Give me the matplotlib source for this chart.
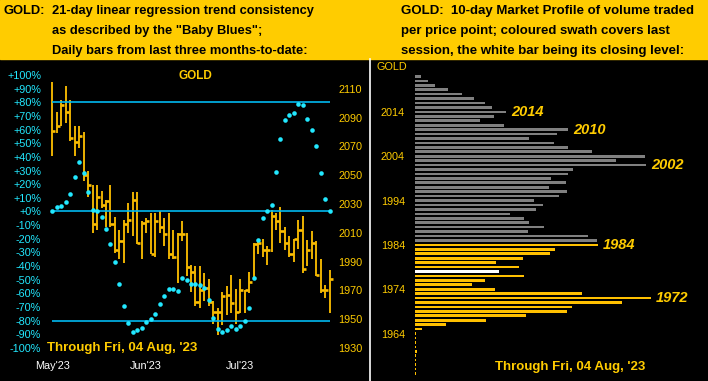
import matplotlib
matplotlib.use("Agg")
import matplotlib.pyplot as plt
from matplotlib.patches import Rectangle
from matplotlib.lines import Line2D

# daily bars (high, low, close), May'23 .. 04 Aug'23
high = [2115, 2094, 2102, 2112, 2102, 2084, 2084, 2080, 2053, 2043, 2043, 2039, 2033,
        2043, 2021, 2012, 2019, 2031, 2038, 2038, 2018, 2020, 2024, 2024, 2025, 2020,
        2024, 2012, 2010, 2018, 2010, 1988, 1987, 1987, 1982, 1978, 1963, 1958, 1969,
        1973, 1981, 1971, 1978, 1970, 1983, 2003, 2006, 2006, 2001, 2026, 2024, 2028,
        2014, 2008, 2006, 2019, 2022, 2005, 2011, 2004, 1992, 1974, 1984]
low = [2063, 2079, 2084, 2086, 2074, 2063, 2069, 2046, 2035, 2010, 2012, 2027, 2014,
       2014, 1996, 1992, 1989, 2010, 2008, 2002, 1992, 2010, 1995, 1993, 2010, 2001,
       1992, 1992, 1975, 2004, 1980, 1969, 1959, 1958, 1963, 1959, 1947, 1939, 1946,
       1953, 1954, 1947, 1954, 1954, 1968, 1978, 1995, 1993, 1988, 1997, 2012, 2003,
       1998, 1993, 1990, 1999, 1982, 1987, 1992, 1980, 1968, 1965, 1954]
close = [2081, 2084, 2099, 2094, 2076, 2073, 2077, 2050, 2043, 2016, 2035, 2029, 2032,
         2016, 1998, 2004, 2016, 2019, 2033, 2003, 2017, 2018, 1995, 2018, 2014, 2009,
         1995, 1993, 2009, 2009, 1986, 1983, 1962, 1970, 1972, 1962, 1955, 1955, 1966,
         1967, 1961, 1955, 1970, 1970, 1976, 2002, 2003, 1998, 1998, 2022, 2018, 2011,
         2003, 1995, 2006, 2012, 1985, 1998, 2003, 1981, 1970, 1970, 1978]
# "Baby Blues": 21-day linear regression trend consistency, %
blues = [0, 3, 4, 7, 13, 25, 36, 28, 14, 1, 0, -4, -13, -24, -37, -53, -69, -82, -88,
         -87, -85, -81, -79, -75, -68, -62, -57, -57, -58, -49, -50, -53, -53, -54,
         -56, -65, -78, -86, -88, -87, -84, -86, -84, -80, -71, -49, -21, -5, 0, 5,
         29, 53, 67, 71, 72, 79, 78, 68, 60, 48, 28, 9, 0]
months = ["May'23", "Jun'23", "Jul'23"]
month_pos = [0, 21, 42]

# 10-day market profile: volume per price point
levels = list(range(2022, 1954, -1))
volume = [6, 13, 20, 33, 47, 59, 70, 77, 91, 79, 65, 89, 153, 142, 114, 139, 153, 177,
          230, 201, 231, 158, 153, 136, 151, 134, 152, 144, 119, 128, 121, 95, 109, 114,
          129, 113, 173, 182, 183, 140, 135, 108, 81, 104, 84, 109, 70, 57, 80, 167, 236,
          207, 157, 152, 111, 71, 31, 7, 1, 1, 1, 1, 2.5, 1, 1, 1, 1, 1]
sess_high, sess_low, sess_close = 1984, 1954, 1978
marked = [2014, 2010, 2002, 1984, 1972]

W, H = 708, 381
GOLDC = "#FFCC00"
BARC = "#FFC000"
CYAN = "#22E8FF"
LINEC = "#00B8F0"
plt.rcParams["font.family"] = ["Liberation Sans", "DejaVu Sans"]


def fx(x):
    return x / W


def fy(y):
    return 1 - y / H


fig = plt.figure(figsize=(W / 100, H / 100), dpi=100, facecolor="black")
fig.patches.append(Rectangle((0, fy(59)), 1, 59 / H, transform=fig.transFigure,
                             color=GOLDC, zorder=0))

hdr = dict(fontsize=9.3, fontweight="bold", color="black", va="center")
fig.text(fx(3), fy(11), "GOLD:", **hdr)
fig.text(fx(52), fy(11), "21-day linear regression trend consistency", **hdr)
fig.text(fx(52), fy(31), 'as described by the "Baby Blues";', **hdr)
fig.text(fx(52), fy(51), "Daily bars from last three months-to-date:", **hdr)
hdr["fontsize"] = 9.5
fig.text(fx(401), fy(11), "GOLD:  10-day Market Profile of volume traded", **hdr)
fig.text(fx(401), fy(31), "per price point; coloured swath covers last", **hdr)
fig.text(fx(401), fy(51), "session, the white bar being its closing level:", **hdr)

# left panel: price bars + baby blues
n = len(close)
x = list(range(n))
ax = fig.add_axes([fx(48), fy(360), (334 - 48) / W, (360 - 62) / H])
ax.set_facecolor("black")
ax.vlines(x, low, high, color=BARC, lw=1.3)
ax.hlines(close, x, [i + 0.7 for i in x], color=BARC, lw=1.9)
ax.set_xlim(-0.96, 62.96)
ax.set_ylim(1921.7, 2128.6)

ax2 = ax.twinx()
ax2.set_ylim(-108.8, 109.5)
ax2.hlines([80, 0, -80], 0, n - 1, color=LINEC, lw=1.2)
ax2.plot(x, blues, "o", color=CYAN, ms=3.3, mec="none")

ax.yaxis.tick_right()
ax.set_yticks(range(1930, 2111, 20))
ax.tick_params(axis="y", colors=GOLDC, labelsize=7.8, length=0, pad=3)
ax.set_xticks(month_pos)
ax.set_xticklabels(months)
ax.tick_params(axis="x", colors="white", labelsize=7.8, length=0, pad=1)
ax2.yaxis.tick_left()
pct = list(range(-100, 101, 10))
ax2.set_yticks(pct)
ax2.set_yticklabels([("+%d%%" % v) if v >= 0 else ("%d%%" % v) for v in pct])
ax2.tick_params(axis="y", colors=CYAN, labelsize=7.8, length=0, pad=5)
for a in (ax, ax2):
    for s in a.spines.values():
        s.set_visible(False)

fig.text(fx(195), fy(76), "GOLD", color=GOLDC, fontsize=8.5, fontweight="bold",
         ha="center", va="center")
fig.text(fx(47), fy(348), "Through Fri, 04 Aug, '23", color=GOLDC, fontsize=9.5,
         fontweight="bold", va="center")

# divider
fig.add_artist(Line2D([fx(369.5)] * 2, [fy(59), 0], color="white", lw=1.2,
                      transform=fig.transFigure))

# right panel: market profile
cols = []
for p in levels:
    if p == sess_close:
        cols.append("white")
    elif sess_low <= p <= sess_high:
        cols.append(BARC)
    else:
        cols.append("#808080")
ax3 = fig.add_axes([fx(415), 0, (708 - 415) / W, (381 - 60) / H])
ax3.set_facecolor("black")
ax3.barh(levels, volume, height=0.6, color=cols)
ax3.set_xlim(0, 293)
ax3.set_ylim(1953.3, 2025.7)
ax3.set_xticks([])
ax3.set_yticks(range(2014, 1960, -10))
ax3.tick_params(axis="y", colors=GOLDC, labelsize=7.8, length=0, pad=7.2)
for s in ax3.spines.values():
    s.set_visible(False)
for p in marked:
    ax3.annotate(str(p), xy=(volume[levels.index(p)], p), xytext=(5, 0),
                 textcoords="offset pixels", color=GOLDC, fontsize=10.5,
                 fontweight="bold", fontstyle="italic", va="center")

fig.text(fx(377), fy(67), "GOLD", color=GOLDC, fontsize=7.8, va="center")
fig.text(fx(495), fy(367), "Through Fri, 04 Aug, '23", color=GOLDC, fontsize=9.5,
         fontweight="bold", va="center")

fig.savefig("out.png", dpi=100, facecolor="black")
